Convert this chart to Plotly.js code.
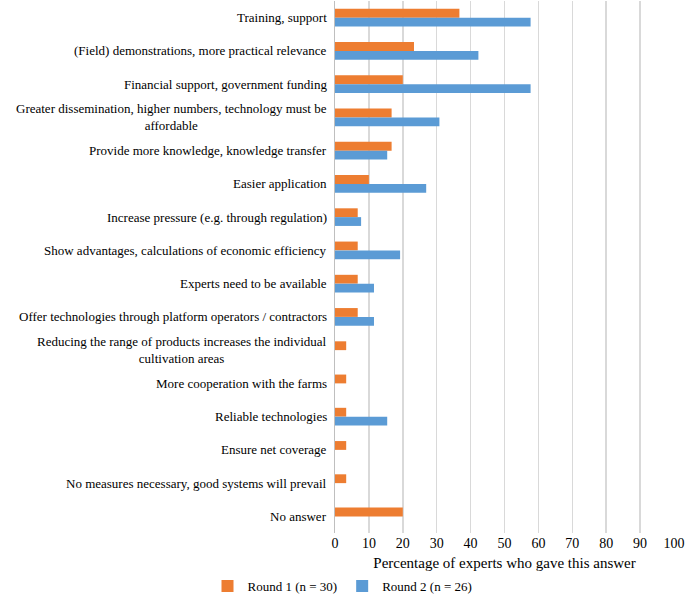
<!DOCTYPE html>
<html><head><meta charset="utf-8">
<script src="https://cdn.plot.ly/plotly-3.0.1.min.js"></script>
<style>html,body{margin:0;padding:0;background:#fff}#chart{width:685px;height:601px}</style>
</head><body><div id="chart"></div>
<script>
const categories = [
  "Training, support",
  "(Field) demonstrations, more practical relevance",
  "Financial support, government funding",
  "Greater dissemination, higher numbers, technology must be<br>affordable",
  "Provide more knowledge, knowledge transfer",
  "Easier application",
  "Increase pressure (e.g. through regulation)",
  "Show advantages, calculations of economic efficiency",
  "Experts need to be available",
  "Offer technologies through platform operators / contractors",
  "Reducing the range of products increases the individual<br>cultivation areas",
  "More cooperation with the farms",
  "Reliable technologies",
  "Ensure net coverage",
  "No measures necessary, good systems will prevail",
  "No answer"
];
const round1 = [36.7, 23.3, 20.0, 16.7, 16.7, 10.0, 6.7, 6.7, 6.7, 6.7, 3.3, 3.3, 3.3, 3.3, 3.3, 20.0];
const round2 = [57.7, 42.3, 57.7, 30.8, 15.4, 26.9, 7.7, 19.2, 11.5, 11.5, 0, 0, 15.4, 0, 0, 0];
const seriesNames = ["Round 1 (n = 30)", "Round 2 (n = 26)"];
const xTicks = [0,10,20,30,40,50,60,70,80,90,100];

const FAM = "Liberation Serif";
const traces = [
  {type:"bar", orientation:"h", name:seriesNames[0], y:categories, x:round1,
   marker:{color:"#ED7D31"}, hoverinfo:"x"},
  {type:"bar", orientation:"h", name:seriesNames[1], y:categories, x:round2,
   marker:{color:"#5B9BD5"}, hoverinfo:"x"}
];
const annotations = categories.map(c => ({
  x:0, xref:"paper", y:c, yref:"y", text:c, showarrow:false,
  xanchor:"right", yanchor:"middle", align:"center", xshift:-6,
  font:{family:FAM, size:13, color:"#000"}
}));
const layout = {
  width:685, height:601,
  margin:{l:335, r:11, t:1, b:68},
  paper_bgcolor:"#fff", plot_bgcolor:"#fff",
  barmode:"group", bargap:0.47, bargroupgap:0,
  font:{family:FAM, size:13, color:"#000"},
  xaxis:{range:[0,100], tickvals:xTicks, ticktext:xTicks.map(String),
    showgrid:true, gridcolor:"#d9d9d9", gridwidth:1.5, zeroline:false,
    showline:false, ticks:"", tickfont:{family:FAM, size:14, color:"#000"},
    automargin:false,
    title:{text:"Percentage of experts who gave this answer", font:{family:FAM, size:15, color:"#000"}, standoff:13}},
  yaxis:{type:"category", autorange:"reversed", showticklabels:false, ticks:"",
    showgrid:false, zeroline:false, showline:true, linecolor:"#bfbfbf", linewidth:1.5},
  showlegend:true,
  legend:{orientation:"h", x:0.5, xref:"container", xanchor:"center", y:0.0, yref:"container", yanchor:"bottom",
    font:{family:FAM, size:13, color:"#000"}, itemwidth:30, traceorder:"normal"},
  annotations:annotations
};
Plotly.newPlot("chart", traces, layout, {displayModeBar:false, staticPlot:true});
</script></body></html>
